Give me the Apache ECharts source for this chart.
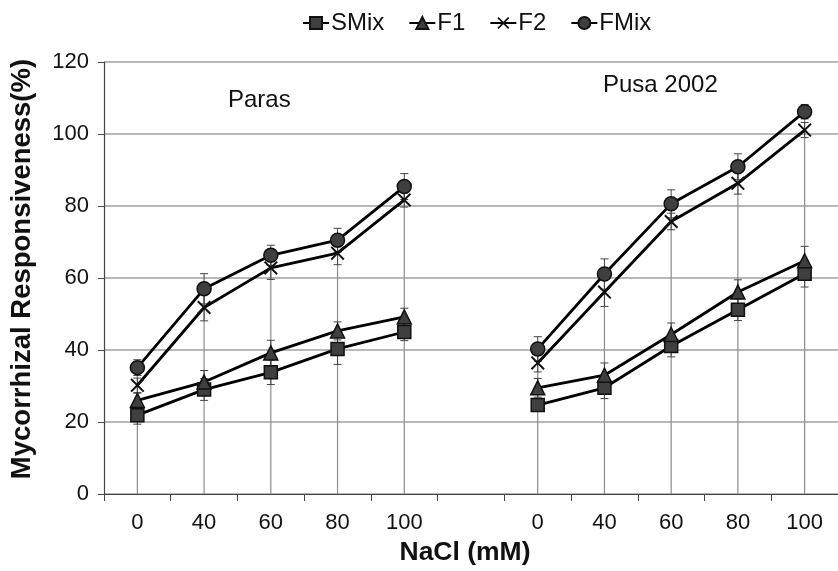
<!DOCTYPE html>
<html>
<head>
<meta charset="utf-8">
<script src="https://cdn.jsdelivr.net/npm/echarts@6/dist/echarts.min.js"></script>
<style>
  html, body { margin: 0; padding: 0; background: #fff; }
  #chart { width: 838px; height: 571px; }
</style>
</head>
<body>
<div id="chart"></div>
<script>
// NaCl levels, Paras then (gap) then Pusa 2002
const categories = ['0', '40', '60', '80', '100', '', '0', '40', '60', '80', '100'];

const smix    = [21.9, 29.0, 33.8, 40.3, 45.0, null, 24.7, 29.5, 41.1, 51.2, 61.2];
const smixErr = [2.5, 3.0, 3.4, 4.3, 2.4, null, 1.7, 3.0, 3.0, 3.0, 3.7];
const f1      = [26.0, 31.1, 39.2, 45.3, 49.2, null, 29.5, 33.0, 44.3, 56.1, 64.8];
const f1Err   = [2.0, 3.2, 3.5, 2.5, 2.4, null, 2.6, 3.4, 3.2, 3.4, 4.0];
const f2      = [30.2, 51.8, 62.8, 66.9, 81.7, null, 36.4, 56.1, 75.7, 86.3, 101.1];
const f2Err   = [2.0, 3.7, 3.2, 3.2, 2.0, null, 2.5, 4.0, 2.3, 3.0, 2.1];
const fmix    = [35.1, 57.0, 66.3, 70.5, 85.4, null, 40.3, 61.1, 80.6, 90.9, 106.2];
const fmixErr = [2.2, 4.2, 2.8, 3.3, 3.6, null, 3.4, 4.2, 3.9, 3.6, 2.0];

const yTicks = [0, 20, 40, 60, 80, 100, 120];

let myChart = echarts.init(document.getElementById('chart'));

const sans = '"Liberation Sans", Arial, sans-serif';

// X marker as filled polygon
const crossPath = 'path://M0,1 L1,0 L5,4 L9,0 L10,1 L6,5 L10,9 L9,10 L5,6 L1,10 L0,9 L4,5 Z';

// error bars
function errData(vals, errs) {
  let out = [];
  vals.forEach((v, i) => {
    if (v != null) out.push([i, v, errs[i]]);
  });
  return out;
}
function renderErr(params, api) {
  let i = api.value(0), v = api.value(1), e = api.value(2);
  let top = api.coord([i, v + e]);
  let bot = api.coord([i, v - e]);
  let w = 4;
  let st = { stroke: '#444', lineWidth: 1 };
  return {
    type: 'group',
    children: [
      { type: 'line', shape: { x1: top[0], y1: top[1], x2: bot[0], y2: bot[1] }, style: st },
      { type: 'line', shape: { x1: top[0] - w, y1: top[1], x2: top[0] + w, y2: top[1] }, style: st },
      { type: 'line', shape: { x1: bot[0] - w, y1: bot[1], x2: bot[0] + w, y2: bot[1] }, style: st }
    ]
  };
}

// drop lines from highest point to axis
let dropData = [];
categories.forEach((c, i) => {
  let vals = [smix[i], f1[i], f2[i], fmix[i]].filter(v => v != null);
  if (vals.length) dropData.push([i, Math.max(...vals)]);
});
function renderDrop(params, api) {
  let p1 = api.coord([api.value(0), api.value(1)]);
  let p0 = api.coord([api.value(0), 0]);
  return {
    type: 'line',
    shape: { x1: p1[0], y1: p1[1], x2: p0[0], y2: p0[1] },
    style: { stroke: '#8c8c8c', lineWidth: 1.2 }
  };
}

function lineSeries(name, data, symbol, size, z) {
  return {
    name: name,
    type: 'line',
    data: data,
    symbol: symbol,
    symbolSize: size,
    connectNulls: false,
    z: z,
    lineStyle: { color: '#000', width: 2.8 },
    itemStyle: symbol === crossPath
      ? { color: '#111', borderColor: '#111', borderWidth: 0 }
      : { color: '#3f3f3f', borderColor: '#111', borderWidth: 1.5 }
  };
}

let option = {
  animation: false,
  backgroundColor: '#fff',
  legend: {
    data: ['SMix', 'F1', 'F2', 'FMix'],
    left: 297,
    top: 6,
    itemWidth: 26,
    itemHeight: 15,
    itemGap: 24,
    textStyle: { fontFamily: sans, fontSize: 24, color: '#111', padding: [0, 0, 0, -3] }
  },
  grid: { left: 102, right: -14, top: 62, bottom: 73 },
  graphic: [
    { type: 'text', left: 228, top: 88, style: { text: 'Paras', font: '24px ' + sans, fill: '#111' } },
    { type: 'text', left: 603, top: 73, style: { text: 'Pusa 2002', font: '24px ' + sans, fill: '#111' } }
  ],
  xAxis: {
    type: 'category',
    data: categories,
    boundaryGap: true,
    name: 'NaCl (mM)',
    nameLocation: 'middle',
    nameGap: 45,
    nameTextStyle: { fontFamily: sans, fontWeight: 'bold', fontSize: 26.5, color: '#111', padding: [0, 12, 0, 0] },
    axisLine: { lineStyle: { color: '#444', width: 1.2 } },
    axisTick: { show: true, length: 7, interval: 0, lineStyle: { color: '#444' } },
    axisLabel: { interval: 0, margin: 18, fontFamily: sans, fontSize: 22, color: '#111' },
    splitLine: { show: false }
  },
  yAxis: {
    type: 'value',
    min: yTicks[0],
    max: yTicks[yTicks.length - 1],
    interval: 20,
    name: 'Mycorrhizal Responsiveness(%)',
    nameLocation: 'middle',
    nameGap: 68,
    nameTextStyle: { fontFamily: sans, fontWeight: 'bold', fontSize: 27.5, color: '#111', padding: [0, 0, 0, 18] },
    axisLine: { show: true, lineStyle: { color: '#444', width: 1.2 } },
    axisTick: { show: true, length: 6, lineStyle: { color: '#444' } },
    axisLabel: { margin: 15, fontFamily: sans, fontSize: 22, color: '#111' },
    splitLine: { lineStyle: { color: '#a0a0a0', width: 1.5 } }
  },
  series: [
    {
      name: 'drop', type: 'custom', data: dropData, renderItem: renderDrop,
      encode: { x: 0, y: 1 }, z: 1, silent: true
    },
    { name: 'errS', type: 'custom', data: errData(smix, smixErr), renderItem: renderErr, encode: { x: 0, y: [1] }, z: 2 },
    { name: 'err1', type: 'custom', data: errData(f1, f1Err), renderItem: renderErr, encode: { x: 0, y: [1] }, z: 2 },
    { name: 'err2', type: 'custom', data: errData(f2, f2Err), renderItem: renderErr, encode: { x: 0, y: [1] }, z: 2 },
    { name: 'errF', type: 'custom', data: errData(fmix, fmixErr), renderItem: renderErr, encode: { x: 0, y: [1] }, z: 2 },
    lineSeries('SMix', smix, 'rect', 13, 3),
    lineSeries('F1', f1, 'triangle', 14, 3),
    lineSeries('F2', f2, crossPath, 14, 3),
    lineSeries('FMix', fmix, 'circle', 14, 3)
  ]
};

myChart.setOption(option);
</script>
</body>
</html>
